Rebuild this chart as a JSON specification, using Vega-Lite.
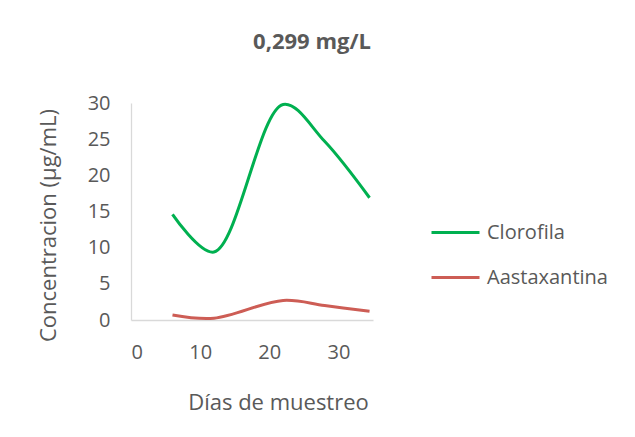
{
  "$schema": "https://vega.github.io/schema/vega-lite/v6.json",
  "width": 242,
  "height": 217,
  "autosize": {"type": "none"},
  "padding": {"left": 131, "top": 103, "right": 262, "bottom": 117},
  "background": "white",
  "title": {
    "text": "0,299 mg/L",
    "font": "Open Sans",
    "fontSize": 22,
    "fontWeight": "bold",
    "color": "#595959",
    "anchor": "middle",
    "dx": 60,
    "offset": 39
  },
  "data": {
    "values": [
      {"dia": 6, "valor": 14.6, "serie": "Clorofila"},
      {"dia": 12, "valor": 9.4, "serie": "Clorofila"},
      {"dia": 22, "valor": 29.8, "serie": "Clorofila"},
      {"dia": 28, "valor": 24.7, "serie": "Clorofila"},
      {"dia": 34.5, "valor": 16.9, "serie": "Clorofila"},
      {"dia": 6, "valor": 0.7, "serie": "Aastaxantina"},
      {"dia": 12, "valor": 0.25, "serie": "Aastaxantina"},
      {"dia": 22, "valor": 2.7, "serie": "Aastaxantina"},
      {"dia": 28, "valor": 2.0, "serie": "Aastaxantina"},
      {"dia": 34.5, "valor": 1.2, "serie": "Aastaxantina"}
    ]
  },
  "mark": {"type": "line", "interpolate": "catmull-rom", "strokeWidth": 3},
  "encoding": {
    "x": {
      "field": "dia",
      "type": "quantitative",
      "scale": {"domain": [0, 35], "nice": false, "zero": true},
      "axis": {
        "values": [0, 10, 20, 30],
        "title": "Días de muestreo",
        "titleX": 147,
        "titleY": 82,
        "titleBaseline": "middle",
        "titleAlign": "center",
        "labelPadding": 22,
        "grid": false,
        "ticks": false
      }
    },
    "y": {
      "field": "valor",
      "type": "quantitative",
      "scale": {"domain": [0, 30], "nice": false},
      "axis": {
        "values": [0, 5, 10, 15, 20, 25, 30],
        "title": "Concentracion (µg/mL)",
        "titleX": -83,
        "titleY": 122,
        "titleAngle": 270,
        "titleBaseline": "middle",
        "titleAlign": "center",
        "labelPadding": 21,
        "grid": false,
        "ticks": false
      }
    },
    "color": {
      "field": "serie",
      "type": "nominal",
      "scale": {"domain": ["Clorofila", "Aastaxantina"], "range": ["#00b050", "#cd5d55"]},
      "legend": {
        "title": null,
        "orient": "none",
        "legendX": 299,
        "legendY": 104,
        "symbolType": "stroke",
        "symbolSize": 2304,
        "symbolStrokeWidth": 3,
        "rowPadding": 9,
        "labelOffset": 6
      }
    }
  },
  "config": {
    "view": {"stroke": null},
    "font": "Open Sans",
    "axis": {
      "domainColor": "#d9d9d9",
      "domainWidth": 1.3,
      "labelColor": "#595959",
      "labelFontSize": 20,
      "labelFont": "Open Sans",
      "titleColor": "#595959",
      "titleFontSize": 22,
      "titleFont": "Open Sans",
      "titleFontWeight": "normal"
    },
    "legend": {
      "labelColor": "#595959",
      "labelFontSize": 20,
      "labelFont": "Open Sans"
    }
  }
}
